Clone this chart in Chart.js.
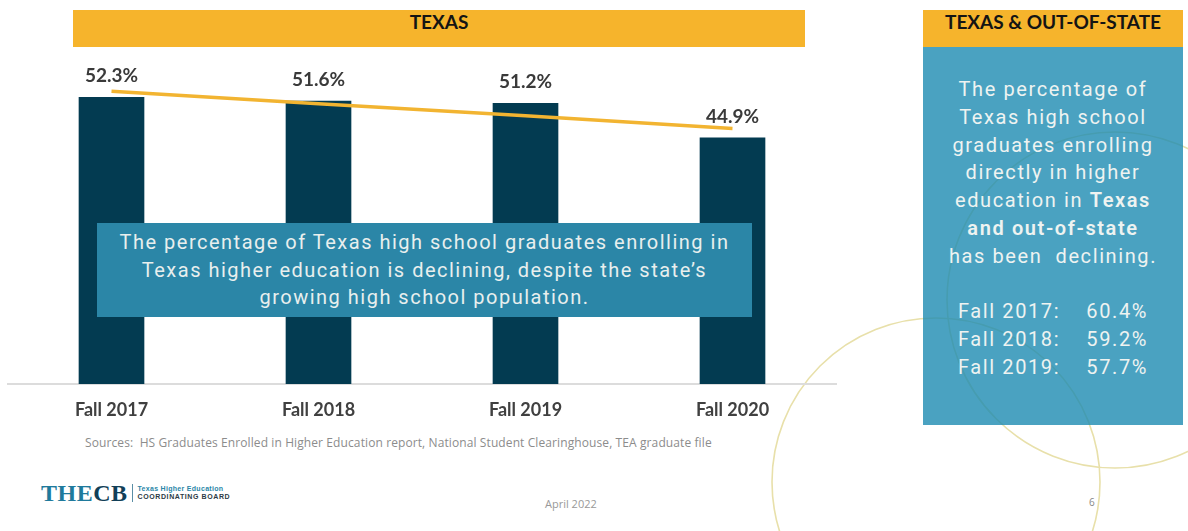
<!DOCTYPE html>
<html lang="en">
<head>
  <meta charset="UTF-8" />
  <title>Texas High School Graduates Enrolling in Higher Education</title>
  <script src="https://cdn.jsdelivr.net/npm/chart.js"></script>
  <style>
    html, body { margin: 0; padding: 0; background: #fff; }
    .slide { position: relative; width: 1188px; height: 531px; overflow: hidden; background: #fff; }
    .rings { position: absolute; left: 0; top: 0; z-index: 0; }
    .chart-wrap { position: absolute; left: 0; top: 0; width: 845px; height: 430px; z-index: 1; }
    .bar-head {
      position: absolute; top: 10px; height: 37px; line-height: 38px;
      background: #f6b42c; color: #141414; text-align: center;
      font: bold 19px Lato, sans-serif; z-index: 2;
    }
    .callout {
      position: absolute; left: 97px; top: 223px; width: 655px; height: 94px;
      box-sizing: border-box; padding-top: 6px;
      background: #2b86a7; color: #e8efee; text-align: center;
      font: 400 20px Roboto, sans-serif; line-height: 27.5px; letter-spacing: 1.5px; z-index: 2;
    }
    .side {
      position: absolute; left: 923px; top: 47px; width: 260px; height: 378px;
      box-sizing: border-box; padding-top: 29px;
      background: rgba(29, 139, 177, 0.8); color: #eef3f1; text-align: center;
      font: 400 20px Roboto, sans-serif; line-height: 27.8px; letter-spacing: 1.6px; z-index: 2;
    }
    .side b { font-weight: 600; }
    .side .rates { white-space: pre; }
    .sources { position: absolute; left: 85px; top: 434px; font: 12px "Open Sans", sans-serif; letter-spacing: 0.1px; color: #8c8c8c; z-index: 2; }
    .date { position: absolute; left: 545px; top: 496px; font: 11px "Open Sans", sans-serif; color: #999; z-index: 2; }
    .page { position: absolute; left: 1089px; top: 495px; font: 10px "Open Sans", sans-serif; color: #888; z-index: 2; }
    .logo { position: absolute; left: 41px; top: 481px; height: 24px; display: flex; align-items: center; z-index: 2; }
    .logo .mark { font: bold 24px "Liberation Serif", serif; letter-spacing: 0.5px; }
    .logo .mark span:first-child { color: #1f7a9c; }
    .logo .mark span:last-child { color: #123f58; }
    .logo .sep { width: 1px; height: 18px; background: #5a8ea5; margin: 0 5px 0 4px; }
    .logo .board { font: bold 7px "Liberation Sans", sans-serif; line-height: 8px; }
    .logo .board div:first-child { color: #2a86a7; letter-spacing: 0.3px; }
    .logo .board div:last-child { color: #2d3b45; letter-spacing: 0.6px; }
  </style>
</head>
<body>
  <div class="slide">
    <!-- decorative rings behind everything -->
    <svg class="rings" width="1188" height="531">
      <circle cx="936" cy="482" r="164" fill="none" stroke="#e8e0aa" stroke-width="1.6" />
      <circle cx="1115" cy="300" r="168" fill="none" stroke="#e8e0aa" stroke-width="1.6" />
    </svg>

    <div class="bar-head" style="left: 73px; width: 732px;">TEXAS</div>

    <div class="chart-wrap"><canvas id="texasChart"></canvas></div>

    <div class="callout">
      The percentage of Texas high school graduates enrolling in<br />
      Texas higher education is declining, despite the state’s<br />
      growing high school population.
    </div>

    <div class="bar-head" style="left: 923px; width: 260px;">TEXAS &amp; OUT-OF-STATE</div>
    <div class="side">
      The percentage of<br />
      Texas high school<br />
      graduates enrolling<br />
      directly in higher<br />
      education in <b>Texas</b><br />
      <b>and out-of-state</b><br />
      has been&nbsp; declining.<br />
      <br />
      <div class="rates" id="rates"></div>
    </div>

    <div class="sources">Sources:&nbsp; HS Graduates Enrolled in Higher Education report, National Student Clearinghouse, TEA graduate file</div>

    <div class="logo">
      <div class="mark"><span>THE</span><span>CB</span></div>
      <div class="sep"></div>
      <div class="board"><div>Texas Higher Education</div><div>COORDINATING BOARD</div></div>
    </div>
    <div class="date">April 2022</div>
    <div class="page">6</div>
  </div>

  <script>
    // Texas-only enrollment rate of HS graduates, by fall term
    const terms = ['Fall 2017', 'Fall 2018', 'Fall 2019', 'Fall 2020'];
    const texasRates = [52.3, 51.6, 51.2, 44.9];
    // linear trend through the four terms
    const trendLine = [53.4, 51.1, 48.9, 46.6];

    // Texas + out-of-state rates listed in the side panel
    const combinedTerms = ['Fall 2017', 'Fall 2018', 'Fall 2019'];
    const combinedRates = [60.4, 59.2, 57.7];

    document.getElementById('rates').textContent = combinedTerms
      .map((t, i) => t + ':    ' + combinedRates[i].toFixed(1) + '%')
      .join('\n');

    // value labels above each bar
    const barLabels = {
      id: 'barLabels',
      afterDatasetsDraw(chart) {
        const ctx = chart.ctx;
        const meta = chart.getDatasetMeta(1);
        ctx.save();
        ctx.font = 'bold 19px Lato';
        ctx.fillStyle = '#3a3a3a';
        ctx.textAlign = 'center';
        ctx.textBaseline = 'middle';
        meta.data.forEach((bar, i) => {
          ctx.fillText(texasRates[i].toFixed(1) + '%', bar.x, bar.y - 21);
        });
        ctx.restore();
      }
    };

    const ctx = document.getElementById('texasChart').getContext('2d');
    const texasChart = new Chart(ctx, {
      data: {
        labels: terms,
        datasets: [{
          type: 'line',
          data: trendLine,
          borderColor: '#f2b431',
          borderWidth: 3.5,
          pointRadius: 0,
          tension: 0,
          order: 0
        }, {
          type: 'bar',
          data: texasRates,
          backgroundColor: '#033b51',
          barThickness: 65,
          order: 1
        }]
      },
      options: {
        responsive: true,
        maintainAspectRatio: false,
        animation: false,
        layout: { padding: { top: 55, left: 8, right: 9, bottom: 0 } },
        plugins: {
          legend: { display: false },
          tooltip: { enabled: false }
        },
        scales: {
          y: { display: false, min: 0, max: 60 },
          x: {
            grid: { display: false, drawTicks: false },
            border: { display: true, color: '#dcdcdc', width: 2 },
            ticks: {
              color: '#404040',
              font: { family: 'Lato', weight: 'bold', size: 18 },
              padding: 15
            },
            afterFit(scale) { scale.height = 46; }
          }
        }
      },
      plugins: [barLabels]
    });
  </script>
</body>
</html>
